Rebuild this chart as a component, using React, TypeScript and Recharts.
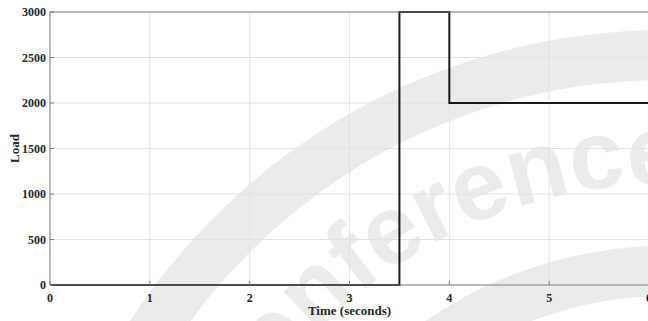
import { LineChart, Line, XAxis, YAxis, CartesianGrid, Label } from "recharts";

// step input: load switches at 3.5 s and 4 s
const times = [0, 3.5, 4, 6];
const loads = [0, 3000, 2000, 2000];
const xTicks = [0, 1, 2, 3, 4, 5, 6];
const yTicks = [0, 500, 1000, 1500, 2000, 2500, 3000];

const data = times.map((t, i) => ({ time: t, load: loads[i] }));

const tickFont = { fontFamily: "Liberation Serif", fontWeight: 700, fontSize: 12, fill: "#262626" };
const axisGray = "#7f7f7f";
const wm = "#ebebeb";

function Watermark() {
  return (
    <svg width={648} height={321} style={{ position: "absolute", left: 0, top: 0 }}>
      <defs>
        <path id="wmArc" d="M 181 669 A 485 485 0 0 1 666 184 A 485 485 0 0 1 1151 669" />
      </defs>
      <circle cx={666} cy={669} r={614} fill="none" stroke={wm} strokeWidth={50} />
      <circle cx={666} cy={669} r={398} fill="none" stroke={wm} strokeWidth={50} />
      <text fontFamily="Liberation Sans" fontWeight={700} fontSize={98} fill={wm}>
        <textPath href="#wmArc" startOffset={238}>
          Conference
        </textPath>
      </text>
    </svg>
  );
}

export default function App() {
  return (
    <div
      style={{
        position: "absolute",
        left: 0,
        top: 0,
        width: 648,
        height: 321,
        overflow: "hidden",
        background: "#fff",
      }}
    >
      <Watermark />
      <div style={{ position: "absolute", left: 0, top: 0 }}>
        <LineChart width={660} height={321} data={data} margin={{ top: 11, right: 10, bottom: 0, left: 0 }}>
          <CartesianGrid stroke="#e2e2e2" strokeWidth={1} />
          <XAxis
            dataKey="time"
            type="number"
            domain={[0, 6]}
            ticks={xTicks}
            height={36}
            tickSize={-4}
            tickMargin={12}
            tick={tickFont}
            tickLine={{ stroke: axisGray }}
            axisLine={{ stroke: axisGray }}
          >
            <Label
              value="Time (seconds)"
              position="insideBottom"
              offset={6}
              style={{ fontFamily: "Liberation Serif", fontWeight: 700, fontSize: 13, fill: "#262626" }}
            />
          </XAxis>
          <XAxis
            xAxisId="top"
            orientation="top"
            type="number"
            domain={[0, 6]}
            ticks={xTicks}
            height={1}
            tick={false}
            tickSize={-4}
            tickLine={{ stroke: axisGray }}
            axisLine={{ stroke: axisGray }}
          />
          <YAxis
            type="number"
            domain={[0, 3000]}
            ticks={yTicks}
            width={50}
            tickSize={-4}
            tickMargin={8}
            tick={tickFont}
            tickLine={{ stroke: axisGray }}
            axisLine={{ stroke: axisGray }}
          >
            <Label
              value="Load"
              angle={-90}
              position="center"
              dx={-11}
              style={{ fontFamily: "Liberation Serif", fontWeight: 700, fontSize: 13, fill: "#262626" }}
            />
          </YAxis>
          <YAxis
            yAxisId="right"
            orientation="right"
            type="number"
            domain={[0, 3000]}
            ticks={yTicks}
            width={1}
            tick={false}
            tickSize={-5}
            tickLine={{ stroke: axisGray }}
            axisLine={{ stroke: axisGray }}
          />
          <Line
            type="stepAfter"
            dataKey="load"
            stroke="#1a1a1a"
            strokeWidth={2}
            dot={false}
            isAnimationActive={false}
          />
        </LineChart>
      </div>
    </div>
  );
}
